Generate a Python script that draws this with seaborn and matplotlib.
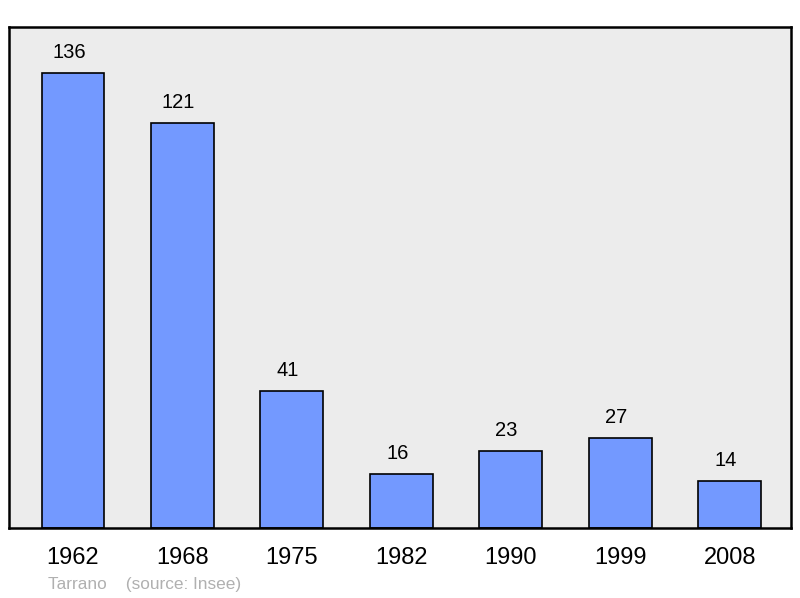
import matplotlib
matplotlib.use("Agg")
import matplotlib.pyplot as plt
import seaborn as sns
import pandas as pd

years = ["1962", "1968", "1975", "1982", "1990", "1999", "2008"]
population = [136, 121, 41, 16, 23, 27, 14]
town = "Tarrano"
source = "(source: Insee)"

sns.set_style("white")
plt.rcParams['font.family'] = ['Liberation Sans', 'DejaVu Sans']

df = pd.DataFrame({"year": years, "pop": population})

fig = plt.figure(figsize=(8, 5.98), dpi=100)
ax = fig.add_axes([0.01125, 0.117, 0.9775, 0.838])
ax.set_facecolor("#ececec")

sns.barplot(data=df, x="year", y="pop", color="#7399ff", saturation=1,
            width=0.575, edgecolor="black", linewidth=1.2, ax=ax, zorder=2)

# value labels above bars (slightly left of centre, as in the original)
for bar, v in zip(ax.patches, population):
    ax.annotate(str(v), (bar.get_x() + bar.get_width() / 2, bar.get_height()),
                xytext=(-3, 8), textcoords="offset points",
                ha="center", va="bottom", fontsize=14.5, color="black")

ax.set_xlim(-0.585, 6.56)
ax.set_ylim(0, 149.7)
ax.set_xlabel("")
ax.set_ylabel("")
ax.set_yticks([])
ax.tick_params(axis="x", length=0, pad=14, labelsize=17, labelcolor="black")

for s in ax.spines.values():
    s.set_visible(True)
    s.set_color("black")
    s.set_linewidth(1.8)

fig.text(48 / 800, 1 - 584 / 598, town + "    " + source, color="#b0b0b0",
         fontsize=12.4, ha="left", va="center")

fig.savefig("out.png", dpi=100)
